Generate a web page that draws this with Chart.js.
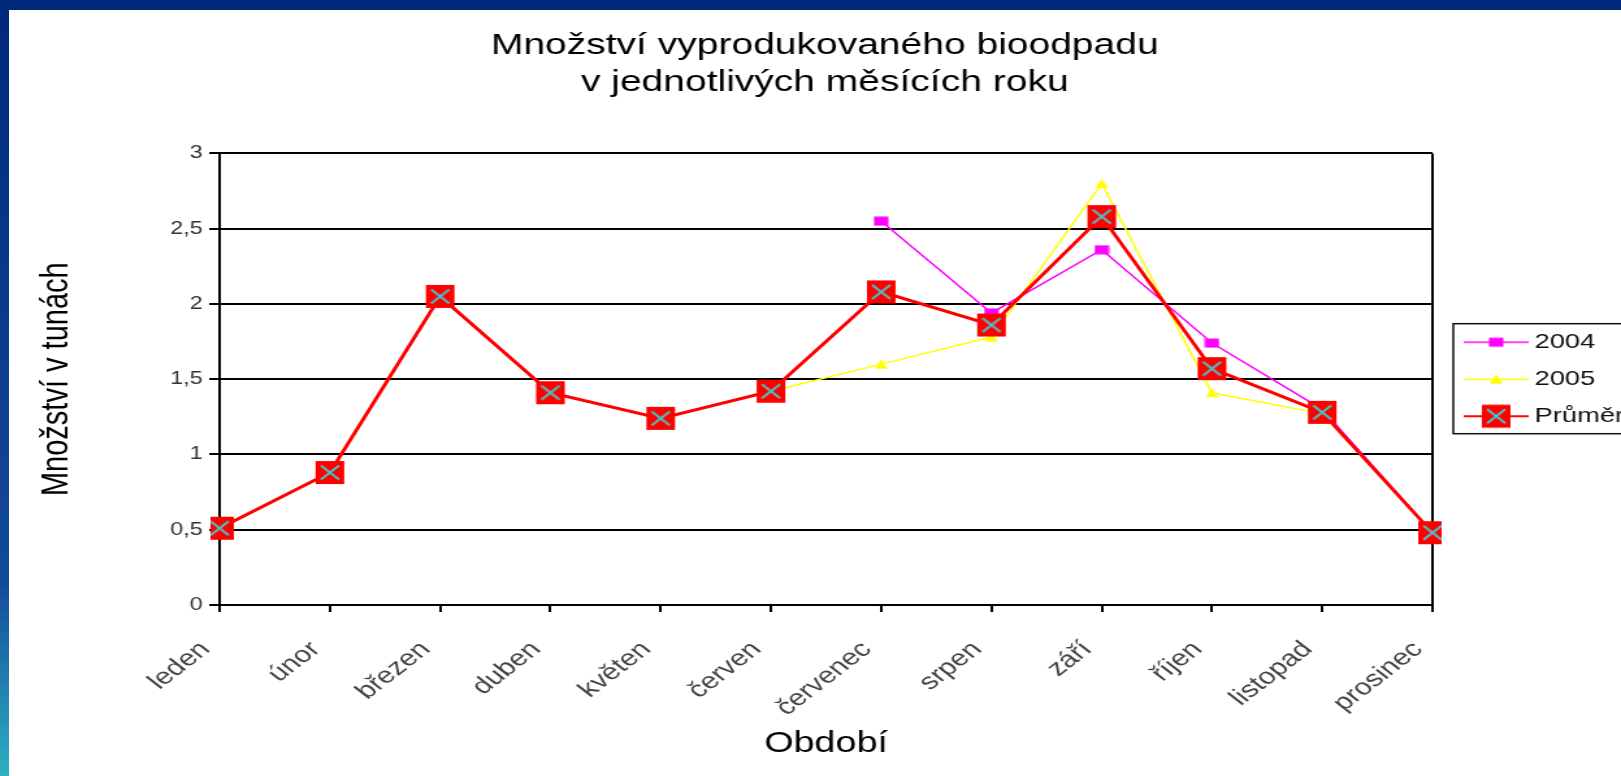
<!DOCTYPE html>
<html lang="cs">
<head>
<meta charset="utf-8">
<title>Množství vyprodukovaného bioodpadu</title>
<script src="https://cdn.jsdelivr.net/npm/chart.js@4/dist/chart.umd.min.js"></script>
<style>
  html, body { margin: 0; width: 100%; height: 100%; overflow: hidden; background: #fff; }
  /* the source picture is stretched sideways, so the chart is drawn narrow and widened */
  #wrap { position: absolute; left: 9px; top: 10px; width: 1260px; height: 766px;
          transform: scaleX(1.3); transform-origin: 0 0; }
  #topbar { position: absolute; left: 0; top: 0; width: 1621px; height: 10px; background: #00287a; }
  #leftbar { position: absolute; left: 0; top: 0; width: 9px; height: 776px;
             background: linear-gradient(#00287a 0%, #0a3a8e 40%, #134a9c 75%, #2db0c0 100%); }
</style>
</head>
<body>
<div id="wrap"><canvas id="bio-chart"></canvas></div>
<div id="topbar"></div>
<div id="leftbar"></div>
<script>
// ── data ──
const months = ['leden', 'únor', 'březen', 'duben', 'květen', 'červen',
                'červenec', 'srpen', 'září', 'říjen', 'listopad', 'prosinec'];
const seriesNames = ['2004', '2005', 'Průměr'];
const rok2004 = [null, null, null, null, null, null, 2.55, 1.94, 2.36, 1.74, 1.30, 0.48];
const rok2005 = [0.51, 0.88, 2.05, 1.41, 1.24, 1.42, 1.60, 1.78, 2.80, 1.41, 1.27, 0.48];
const prumer  = [0.51, 0.88, 2.05, 1.41, 1.24, 1.42, 2.08, 1.86, 2.58, 1.57, 1.28, 0.48];
const yMin = 0, yMax = 3, yStep = 0.5;

const FONT = "'Liberation Sans', Arial, sans-serif";
Chart.defaults.font.family = FONT;

// ── marker images ──
function makeCanvas(w, h, draw) {
  const c = document.createElement('canvas');
  c.width = w; c.height = h;
  draw(c.getContext('2d'), w, h);
  return c;
}

function drawSquare(ctx, cx, cy) {
  ctx.fillStyle = '#ff00ff';
  ctx.fillRect(cx - 5.5, cy - 4.5, 11, 9);
}
function drawTriangle(ctx, cx, cy) {
  ctx.fillStyle = '#ffff00';
  ctx.beginPath();
  ctx.moveTo(cx, cy - 5);
  ctx.lineTo(cx + 5, cy + 4.5);
  ctx.lineTo(cx - 5, cy + 4.5);
  ctx.closePath();
  ctx.fill();
}
function drawCross(ctx, cx, cy) {
  ctx.fillStyle = '#ff0000';
  ctx.fillRect(cx - 11, cy - 11.5, 22, 23);
  ctx.strokeStyle = '#44c8cc';
  ctx.lineWidth = 2;
  ctx.beginPath();
  ctx.moveTo(cx - 7, cy - 7); ctx.lineTo(cx + 7, cy + 7);
  ctx.moveTo(cx + 7, cy - 7); ctx.lineTo(cx - 7, cy + 7);
  ctx.stroke();
}

const markers = [
  makeCanvas(12, 10, (ctx, w, h) => drawSquare(ctx, w / 2, h / 2)),
  makeCanvas(12, 11, (ctx, w, h) => drawTriangle(ctx, w / 2, h / 2)),
  makeCanvas(24, 25, (ctx, w, h) => drawCross(ctx, w / 2, h / 2)),
];

// legend samples: a short line with the marker on it
const lineColors = ['#ff00ff', '#ffff00', '#ff0000'];
const lineWidths = [1.5, 1.5, 2];
const drawers = [drawSquare, drawTriangle, drawCross];
const legendImgs = lineColors.map((col, i) => makeCanvas(64, 26, (ctx, w, h) => {
  ctx.strokeStyle = col;
  ctx.lineWidth = lineWidths[i];
  ctx.beginPath();
  ctx.moveTo(14, h / 2); ctx.lineTo(64, h / 2);
  ctx.stroke();
  drawers[i](ctx, 39, h / 2);
}));

// legend frame, drawn round the legend items
const legendFrame = {
  id: 'legendFrame',
  afterDraw(chart) {
    const hb = chart.legend && chart.legend.legendHitBoxes;
    if (!hb || !hb.length) return;
    const ctx = chart.ctx;
    const last = hb[hb.length - 1];
    const top = hb[0].top - 8;
    const bottom = last.top + last.height + 7;
    ctx.save();
    ctx.strokeStyle = '#111';
    ctx.lineWidth = 1.5;
    ctx.strokeRect(hb[0].left, top, chart.width + 20, bottom - top);
    ctx.restore();
  }
};

const lastIdx = months.length - 1;

new Chart(document.getElementById('bio-chart'), {
  type: 'line',
  data: {
    labels: months,
    datasets: [
      { label: seriesNames[0], data: rok2004, borderColor: '#ff00ff', borderWidth: 1.5,
        pointStyle: markers[0], order: 2 },
      { label: seriesNames[1], data: rok2005, borderColor: '#ffff00', borderWidth: 1.5,
        pointStyle: markers[1], order: 1 },
      { label: seriesNames[2], data: prumer, borderColor: '#ff0000', borderWidth: 3,
        pointStyle: markers[2], order: 0 },
    ],
  },
  options: {
    responsive: true,
    maintainAspectRatio: false,
    animation: false,
    events: [],
    elements: { line: { tension: 0, fill: false } },
    layout: { padding: { left: 10, top: 5, right: 15, bottom: 10 } },
    scales: {
      x: {
        offset: false,
        grid: {
          color: c => c.index === lastIdx ? '#000' : 'rgba(0,0,0,0)',
          tickColor: '#000',
          lineWidth: 2,
          tickLength: 7,
        },
        border: { display: true, color: '#000', width: 2 },
        ticks: { minRotation: 45, maxRotation: 45, autoSkip: false, padding: 24, labelOffset: -11,
                 color: '#444', font: { size: 23 } },
        title: { display: true, text: 'Období', color: '#000',
                 font: { size: 29 }, padding: { top: 0, bottom: 5 } },
        afterFit: s => { s.height = 161; },
      },
      y: {
        min: yMin, max: yMax,
        grid: { color: '#000', lineWidth: 2, tickLength: 8 },
        border: { display: true, color: '#000', width: 2 },
        ticks: { stepSize: yStep, padding: 5, color: '#333', font: { size: 18 },
                 callback: v => String(v).replace('.', ',') },
        title: { display: true, text: 'Množství v tunách', color: '#000',
                 font: { size: 29 }, padding: { top: 10, bottom: 0 } },
        afterFit: s => { s.width = 152; },
      },
    },
    plugins: {
      title: {
        display: true,
        text: ['Množství vyprodukovaného bioodpadu', 'v jednotlivých měsících roku'],
        color: '#000',
        font: { size: 30, weight: 'normal', lineHeight: 1.24 },
        padding: { top: 12, bottom: 52 },
      },
      legend: {
        position: 'right',
        fullSize: false,
        maxWidth: 150,
        labels: {
          usePointStyle: true,
          pointStyleWidth: 52,
          padding: 16,
          color: '#111',
          font: { size: 21 },
          generateLabels: chart => chart.data.datasets.map((ds, i) => ({
            text: ds.label,
            pointStyle: legendImgs[i],
            datasetIndex: i,
            fillStyle: 'rgba(0,0,0,0)',
            strokeStyle: 'rgba(0,0,0,0)',
            lineWidth: 0,
            hidden: false,
            fontColor: '#111',
          })),
        },
      },
      tooltip: { enabled: false },
    },
  },
  plugins: [legendFrame],
});
</script>
</body>
</html>
